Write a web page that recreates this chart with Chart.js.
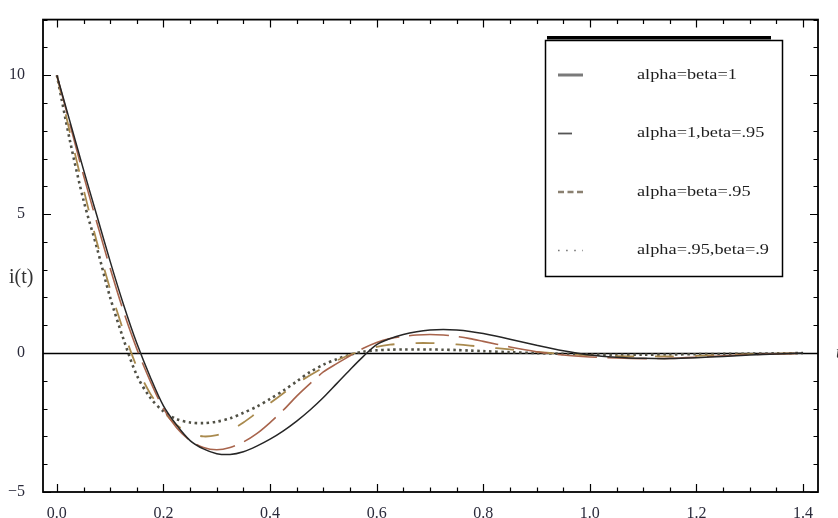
<!DOCTYPE html>
<html>
<head>
<meta charset="utf-8">
<title>i(t)</title>
<script src="https://cdn.jsdelivr.net/npm/chart.js@4/dist/chart.umd.min.js"></script>
<style>
  html, body { margin: 0; padding: 0; background: #fff; }
  canvas { display: block; }
</style>
</head>
<body>
<canvas id="myChart" width="838" height="518"></canvas>
<script>
// time samples shared by every curve
const tValues = [0, 0.025, 0.05, 0.075, 0.1, 0.125, 0.15, 0.175, 0.2, 0.225, 0.25, 0.275,
  0.3, 0.325, 0.35, 0.375, 0.4, 0.425, 0.45, 0.475, 0.5, 0.525, 0.55, 0.575, 0.6, 0.625,
  0.65, 0.675, 0.7, 0.725, 0.75, 0.775, 0.8, 0.85, 0.9, 0.95, 1.0, 1.05, 1.1, 1.15, 1.2,
  1.25, 1.3, 1.35, 1.4];

// alpha=beta=1
const currentAB1 = [10, 8.3, 6.6, 4.95, 3.3, 1.75, 0.35, -0.85, -1.9, -2.6, -3.15, -3.45,
  -3.62, -3.65, -3.55, -3.35, -3.1, -2.8, -2.45, -2.05, -1.6, -1.1, -0.6, -0.12, 0.3, 0.52,
  0.67, 0.77, 0.83, 0.85, 0.83, 0.78, 0.7, 0.5, 0.28, 0.08, -0.07, -0.15, -0.19, -0.2, -0.17,
  -0.12, -0.07, -0.03, 0];
// alpha=1, beta=.95
const currentA1B95 = [10, 8.2, 6.4, 4.7, 3.05, 1.5, 0.15, -1.0, -2.0, -2.7, -3.15, -3.4,
  -3.48, -3.4, -3.2, -2.9, -2.5, -2.05, -1.55, -1.1, -0.68, -0.38, -0.1, 0.17, 0.38, 0.52,
  0.6, 0.65, 0.67, 0.65, 0.6, 0.52, 0.42, 0.22, 0.05, -0.07, -0.14, -0.18, -0.2, -0.19, -0.15,
  -0.1, -0.06, -0.03, -0.01];
// alpha=beta=.95
const currentAB95 = [10, 7.9, 5.9, 4.0, 2.3, 0.8, -0.5, -1.45, -2.1, -2.6, -2.88, -3.0,
  -2.95, -2.78, -2.5, -2.15, -1.8, -1.45, -1.1, -0.8, -0.52, -0.27, -0.06, 0.1, 0.22, 0.3,
  0.34, 0.36, 0.36, 0.34, 0.31, 0.27, 0.22, 0.13, 0.04, -0.03, -0.08, -0.11, -0.12, -0.12, -0.1,
  -0.07, -0.04, -0.02, -0.01];
// alpha=.95, beta=.9
const currentA95B9 = [10, 7.6, 5.5, 3.8, 2.0, 0.5, -0.8, -1.6, -2.1, -2.38, -2.5, -2.52,
  -2.47, -2.35, -2.15, -1.93, -1.65, -1.35, -1.02, -0.68, -0.42, -0.22, -0.06, 0.05, 0.1, 0.12,
  0.13, 0.13, 0.13, 0.12, 0.11, 0.09, 0.07, 0.03, 0.0, -0.03, -0.05, -0.06, -0.06, -0.05, -0.04,
  -0.03, -0.02, -0.01, 0];

const seriesLabels = ['alpha=beta=1', 'alpha=1,beta=.95', 'alpha=beta=.95', 'alpha=.95,beta=.9'];
const xTickValues = [0, 0.2, 0.4, 0.6, 0.8, 1.0, 1.2, 1.4];
const yTickValues = [-5, 0, 5, 10];

const serif = '"Liberation Serif", "DejaVu Serif", serif';

function points(ys) {
  return tValues.map((t, i) => ({ x: t, y: ys[i] }));
}

// zero line, boxed frame with inward ticks on all four sides, axis names
const framePlugin = {
  id: 'frame',
  beforeDatasetsDraw(chart) {
    const { ctx, chartArea, scales } = chart;
    const y0 = Math.round(scales.y.getPixelForValue(0)) + 0.5;
    ctx.save();
    ctx.strokeStyle = '#000';
    ctx.lineWidth = 1.6;
    ctx.beginPath();
    ctx.moveTo(chartArea.left, y0);
    ctx.lineTo(chartArea.right, y0);
    ctx.stroke();
    ctx.restore();
  },
  afterDraw(chart) {
    const { ctx, chartArea: { left, right, top, bottom }, scales: { x, y } } = chart;
    ctx.save();
    ctx.strokeStyle = '#000';
    ctx.lineWidth = 1.2;
    ctx.beginPath();
    for (let k = 0; k <= 28; k++) {
      const v = k * 0.05;
      const px = Math.round(x.getPixelForValue(v)) + 0.5;
      const len = k % 4 === 0 ? 8 : 4.5;
      ctx.moveTo(px, bottom); ctx.lineTo(px, bottom - len);
      ctx.moveTo(px, top); ctx.lineTo(px, top + len);
    }
    for (let v = -5; v <= 12; v++) {
      const py = Math.round(y.getPixelForValue(v)) + 0.5;
      const len = v % 5 === 0 ? 8 : 4.5;
      ctx.moveTo(left, py); ctx.lineTo(left + len, py);
      ctx.moveTo(right, py); ctx.lineTo(right - len, py);
    }
    ctx.stroke();

    ctx.lineWidth = 1.8;
    ctx.strokeRect(left, top, right - left, bottom - top);

    ctx.fillStyle = '#333';
    ctx.font = '20px ' + serif;
    ctx.textBaseline = 'middle';
    ctx.textAlign = 'left';
    ctx.fillText('i(t)', 9, y.getPixelForValue(2.7));
    ctx.font = 'italic 18px ' + serif;
    ctx.fillText('t', right + 18, y.getPixelForValue(0));
    ctx.restore();
  }
};

// boxed legend in the upper right
const legendBoxPlugin = {
  id: 'legendBox',
  afterDraw(chart, args, opts) {
    const { ctx } = chart;
    const b = opts.box;
    ctx.save();
    ctx.fillStyle = '#000';
    ctx.fillRect(b.x + 2, b.y - 4, b.w - 13, 3.5);
    ctx.strokeStyle = '#000';
    ctx.lineWidth = 1.5;
    ctx.strokeRect(b.x + 0.5, b.y + 0.5, b.w, b.h);

    chart.data.datasets.forEach((ds, i) => {
      const s = opts.samples[i];
      const yy = b.y + opts.firstRow + i * opts.rowGap;
      ctx.strokeStyle = s.color;
      ctx.lineWidth = s.width;
      ctx.setLineDash(s.dash);
      ctx.beginPath();
      ctx.moveTo(b.x + 13, yy);
      ctx.lineTo(b.x + 13 + s.len, yy);
      ctx.stroke();
      ctx.setLineDash([]);

      ctx.save();
      ctx.translate(b.x + 92, yy);
      ctx.scale(1.22, 1);
      ctx.fillStyle = '#1e1e1e';
      ctx.font = '15px ' + serif;
      ctx.textBaseline = 'middle';
      ctx.fillText(ds.label, 0, 0);
      ctx.restore();
    });
    ctx.restore();
  }
};

const ctx = document.getElementById('myChart');
new Chart(ctx, {
  type: 'line',
  data: {
    datasets: [
      {
        label: seriesLabels[0],
        data: points(currentAB1),
        borderColor: '#262626',
        borderWidth: 1.5,
        fill: false,
      },
      {
        label: seriesLabels[1],
        data: points(currentA1B95),
        borderColor: '#a8644c',
        borderWidth: 1.6,
        borderDash: [40, 10],
        fill: false,
      },
      {
        label: seriesLabels[2],
        data: points(currentAB95),
        borderColor: '#a98a4e',
        borderWidth: 1.8,
        borderDash: [19, 21],
        fill: false,
      },
      {
        label: seriesLabels[3],
        data: points(currentA95B9),
        borderColor: '#505045',
        borderWidth: 2.6,
        borderDash: [2.5, 3.5],
        fill: false,
      }]
  },
  options: {
    responsive: false,
    animation: false,
    layout: { padding: { top: 16, right: 20, left: 0, bottom: 0 } },
    elements: {
      point: { radius: 0 },
      line: { tension: 0.3, borderCapStyle: 'butt' }
    },
    scales: {
      x: {
        type: 'linear',
        min: -0.026,
        max: 1.428,
        grid: { display: false },
        border: { display: false },
        afterBuildTicks: scale => { scale.ticks = xTickValues.map(v => ({ value: v })); },
        afterFit: scale => { scale.height = 26; },
        ticks: {
          autoSkip: false,
          maxRotation: 0,
          padding: 4,
          color: '#2a2a3a',
          font: { family: serif, size: 16 },
          callback: v => Number(v).toFixed(1)
        }
      },
      y: {
        type: 'linear',
        min: -5,
        max: 12,
        grid: { display: false },
        border: { display: false },
        afterBuildTicks: scale => { scale.ticks = yTickValues.map(v => ({ value: v })); },
        afterFit: scale => { scale.width = 43; },
        ticks: {
          padding: 10,
          color: '#2a2a3a',
          font: { family: serif, size: 16 },
          callback: v => (v < 0 ? '\u2212' + Math.abs(v) : String(v))
        }
      }
    },
    plugins: {
      legend: { display: false },
      tooltip: { enabled: false },
      legendBox: {
        box: { x: 545, y: 40, w: 237, h: 236 },
        firstRow: 35,
        rowGap: 58.5,
        samples: [
          { color: '#7a7a7a', width: 3, dash: [], len: 25 },
          { color: '#555', width: 1.8, dash: [], len: 14 },
          { color: '#8a8070', width: 2.4, dash: [6, 3.5], len: 25 },
          { color: '#777', width: 1.6, dash: [1.6, 6.5], len: 25 }
        ]
      }
    }
  },
  plugins: [framePlugin, legendBoxPlugin]
});
</script>
</body>
</html>
